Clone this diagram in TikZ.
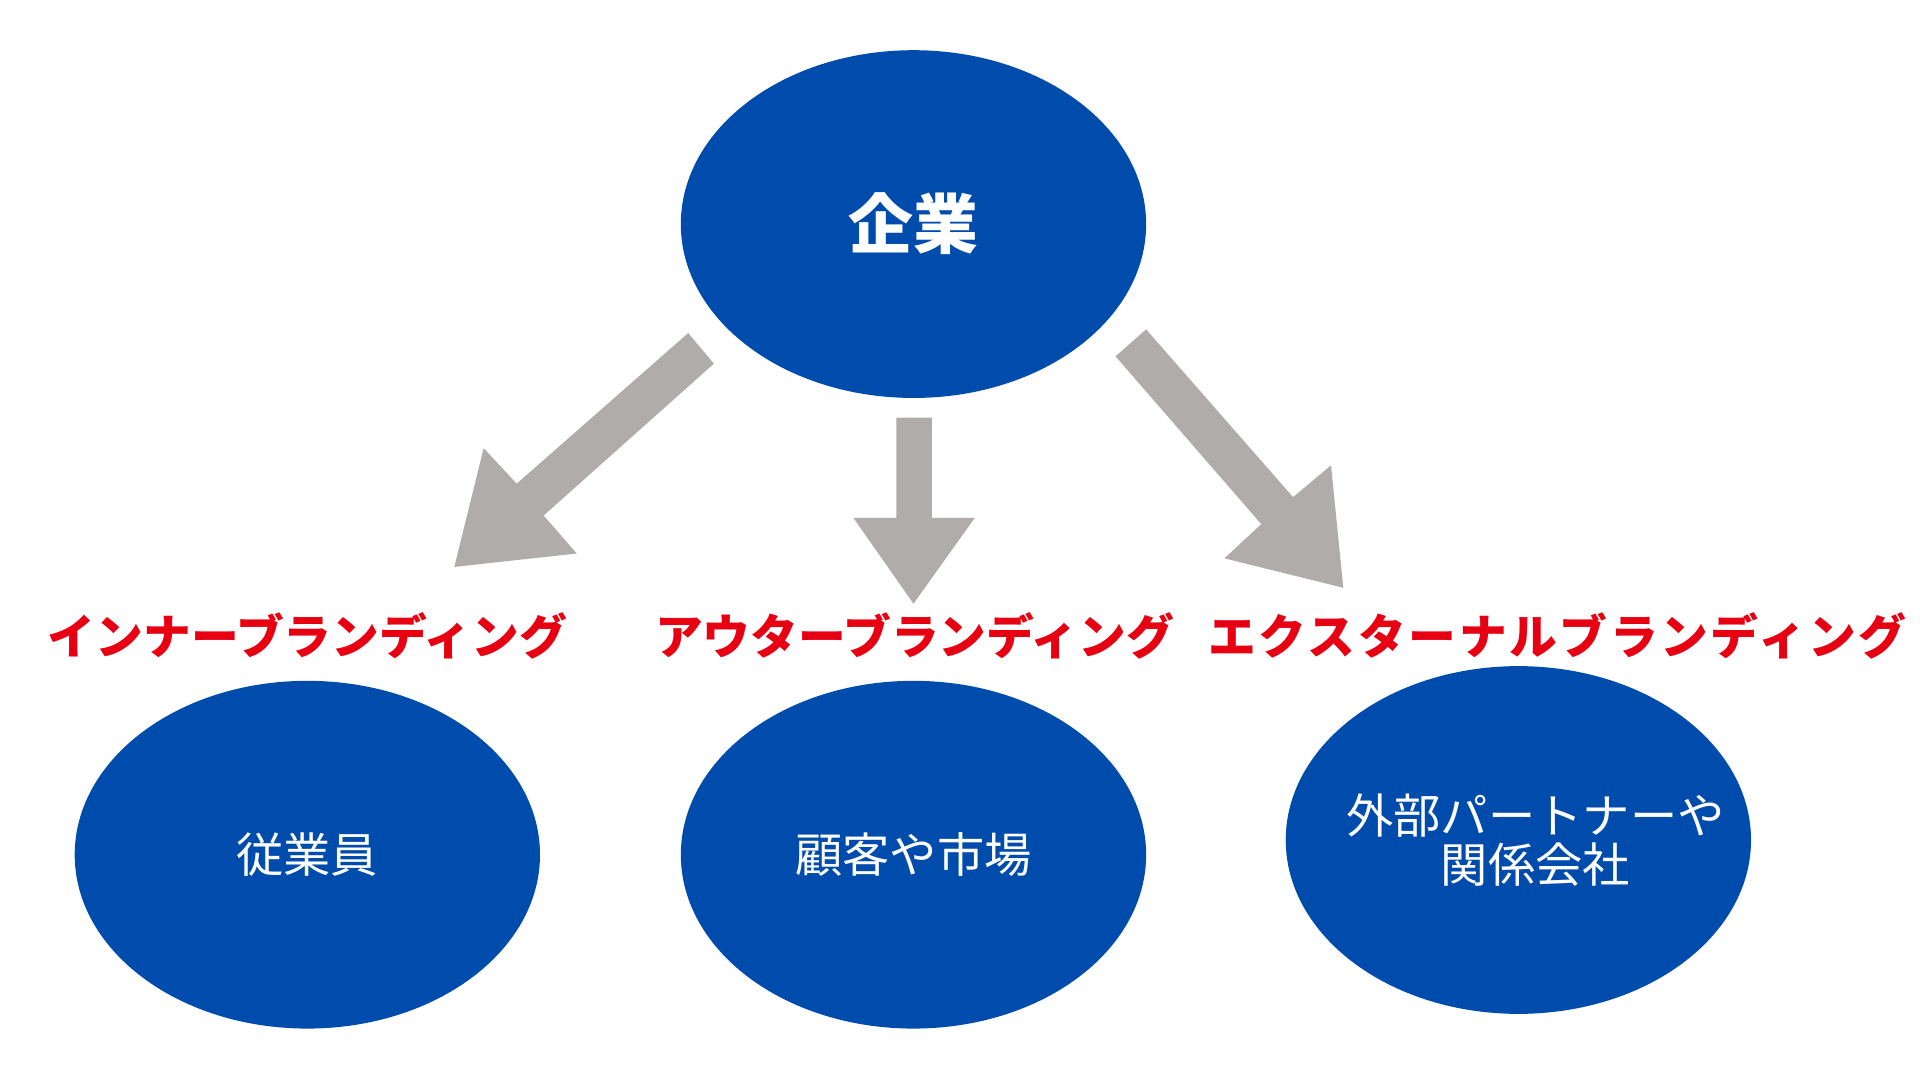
\documentclass[tikz,border=0pt]{standalone}
\usepackage{fontspec}
\newfontfamily\jp{Noto Sans CJK JP}
\usetikzlibrary{shapes.geometric}
\definecolor{bblue}{RGB}{0,76,172}
\definecolor{agray}{RGB}{175,172,171}
\definecolor{lred}{RGB}{230,0,18}
\tikzset{
  ell/.style={ellipse, fill=bblue, inner sep=0pt, minimum width=190pt, minimum height=142pt},
  txt/.style={text=white, align=center, inner sep=0pt, font=\jp\fontsize{19.3}{20}\selectfont},
  blockarrow/.style={fill=agray, draw=none},
  lab/.style={text=lred, inner sep=0pt, font=\jp\bfseries\fontsize{19.5}{22}\selectfont}
}
\begin{document}
\begin{tikzpicture}[x=0.5pt,y=-0.5pt]
\useasboundingbox (0,0) rectangle (1568,882);
\node[ell] (top) at (746,183) {};
\node[ell] (emp) at (251,698) {};
\node[ell] (cust) at (746,698) {};
\node[ell] (part) at (1240,686) {};
\node[txt, font=\jp\bfseries\fontsize{26.5}{30}\selectfont] (ttop) at (top.center) {企業};
\node[txt] (temp) at (emp.center) {従業員};
\node[txt] (tcust) at (cust.center) {顧客や市場};
\node[txt] (tpart) at ([xshift=7pt]part.center) {外部パートナーや\\関係会社};
\node[lab] (l1) at (251,519) {インナーブランディング};
\node[lab] (l2) at (747,519) {アウターブランディング};
\node[lab] (l3) at (1272,519) {\addfontfeature{LetterSpace=5.5}エクスターナルブランディング};
\fill[blockarrow] (562,272) -- (583,297) -- (444,421) -- (471,452) -- (371,463) -- (395,366) -- (422,395) -- cycle;
\fill[blockarrow] (732,341) -- (761,341) -- (761,423) -- (796,423) -- (746,493) -- (697,423) -- (732,423) -- cycle;
\fill[blockarrow] (936,269) -- (911,291) -- (1030,428) -- (1000,456) -- (1097,480) -- (1087,380) -- (1056,406) -- cycle;
\end{tikzpicture}
\end{document}
